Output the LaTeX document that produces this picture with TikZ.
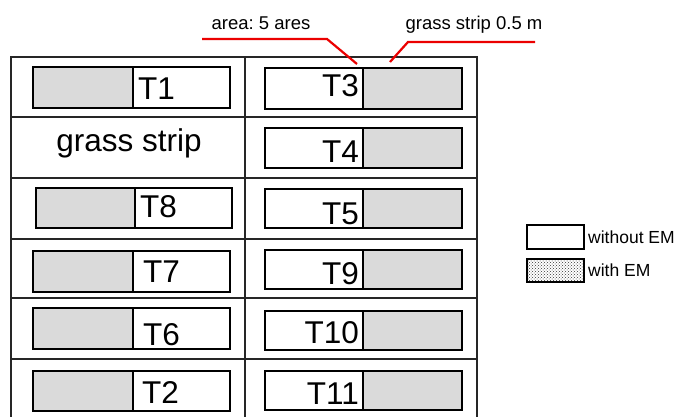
\documentclass[tikz,border=0pt]{standalone}
\usepackage{fontspec}
\setmainfont{Liberation Sans}
\usetikzlibrary{patterns}
\definecolor{redline}{RGB}{235, 0, 0}
\definecolor{grassfill}{RGB}{218, 218, 218}
\tikzset{
    gridline/.style={line width=1.3pt, color=black!85},
    plotbox/.style={line width=2.6pt, color=black},
    plotsplit/.style={line width=1.3pt, color=black},
    leader/.style={line width=2.2pt, color=redline},
    plotlabel/.style={font=\fontsize{31.5}{32}\selectfont, inner sep=0pt},
    smalllabel/.style={font=\fontsize{18.5}{19}\selectfont, inner sep=0pt, anchor=base},
    legendlabel/.style={font=\fontsize{17.5}{18}\selectfont, inner sep=0pt, anchor=west}
}
\frenchspacing

\begin{document}
\begin{tikzpicture}[x=1pt, y=-1pt]
        \useasboundingbox (0,0) rectangle (683,417);

        % field layout
        \draw[gridline] (11,417) -- (11,57) -- (477,57) -- (477,417);
        \draw[gridline] (245,57) -- (245,417);
        \foreach \y in {117,178,239,298,359}
            \draw[gridline] (11,\y) -- (477,\y);

        % plots with the grass strip on the left
        \foreach \name/\xa/\xs/\xb/\ya/\yb/\xl/\yl in
            {T1/33/133/230/67/108/138/100, T8/36/135/232/188/228/140/218,
             T7/33/133/230/251/292/143/282, T6/33/133/230/308/349/143/345,
             T2/33/133/230/371/411/142/403} {
            \fill[grassfill] (\xa,\ya) rectangle (\xs,\yb);
            \draw[plotsplit] (\xs,\ya) -- (\xs,\yb);
            \draw[plotbox] (\xa,\ya) rectangle (\xb,\yb);
            \node[plotlabel, anchor=base west] (\name) at (\xl,\yl) {\name};
        }

        % plots with the grass strip on the right
        \foreach \name/\ya/\yb/\yl in
            {T3/68/109/97, T4/128/168/163, T5/189/228/224,
             T9/250/289/284, T10/311/350/343, T11/371/410/404} {
            \fill[grassfill] (363,\ya) rectangle (462,\yb);
            \draw[plotsplit] (363,\ya) -- (363,\yb);
            \draw[plotbox] (265,\ya) rectangle (462,\yb);
            \node[plotlabel, anchor=base east] (\name) at (359,\yl) {\name};
        }

        \node[plotlabel, anchor=base] (strip) at (129,152) {grass strip};

        % annotations
        \node[smalllabel] (area) at (261,30) {area: 5 ares};
        \node[smalllabel] (width) at (474,30) {grass strip 0.5 m};
        \coordinate (areaA) at (202,39);
        \coordinate (areaB) at (327,39);
        \coordinate (areaC) at (357,64);
        \coordinate (widthA) at (535,42);
        \coordinate (widthB) at (408,42);
        \coordinate (widthC) at (390,62);
        \draw[leader] (areaA) -- (areaB) -- (areaC);
        \draw[leader] (widthA) -- (widthB) -- (widthC);

        % legend
        \draw[line width=1.2pt] (527,225) rectangle (584,249);
        \draw[line width=1.2pt, pattern=crosshatch dots, pattern color=black!80] (527,259) rectangle (584,282);
        \node[legendlabel] (without) at (588,237) {without EM};
        \node[legendlabel] (with) at (588,270) {with EM};

    \end{tikzpicture}
\end{document}
